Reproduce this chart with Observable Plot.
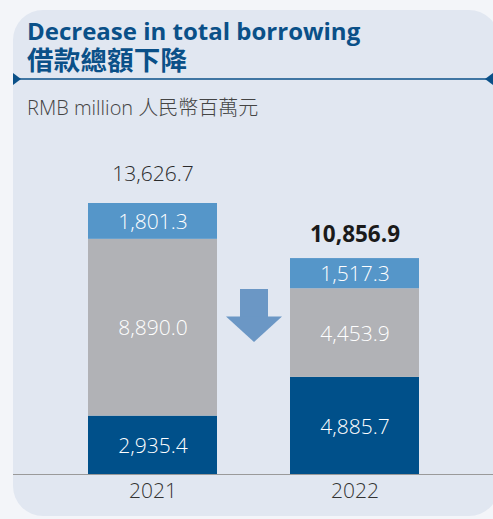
<!DOCTYPE html>
<html>
<head>
<meta charset="utf-8">
<script src="https://cdn.jsdelivr.net/npm/d3@7"></script>
<script src="https://cdn.jsdelivr.net/npm/@observablehq/plot@0.6"></script>
<style>
  html, body { margin:0; padding:0; }
  body { width:493px; height:519px; background:#f3f5f9; position:relative; overflow:hidden; font-family:"Open Sans", sans-serif; }
  #panel { position:absolute; left:13px; top:10px; width:486px; height:506px; border-radius:30px; background:#e1e7f1; }
  .title { position:absolute; left:27px; color:#0a5088; font-weight:700; white-space:nowrap; line-height:1; }
  #t1 { top:19px; font-size:24px; letter-spacing:0px; font-family:"Open Sans", sans-serif; }
  #t2 { top:46px; font-size:26.5px; font-family:"Noto Sans CJK TC", sans-serif; letter-spacing:0.2px; }
  #sub { position:absolute; left:27px; top:98px; font-size:20px; line-height:1; color:#444; font-weight:300; white-space:nowrap; font-family:"Open Sans","Noto Sans CJK TC",sans-serif; }
  #deco { position:absolute; left:0; top:0; }
  #chart { position:absolute; left:0; top:120px; }
</style>
</head>
<body>
<div id="panel"></div>
<div class="title" id="t1">Decrease in total borrowing</div>
<div class="title" id="t2">借款總額下降</div>
<div id="sub">RMB million 人民幣百萬元</div>
<svg id="deco" width="493" height="519">
  <line x1="13" x2="493" y1="79" y2="79" stroke="#0a5088" stroke-width="1.3"/>
  <polygon points="13,73 21,79 13,85" fill="#0a5088"/>
  <polygon points="493,73 485,79 493,85" fill="#0a5088"/>
  <rect x="240" y="289" width="28" height="28" fill="#6b97c5"/>
  <polygon points="226,316.5 282,316.5 254,342" fill="#6b97c5"/>
</svg>
<div id="chart"></div>
<script>
const years = ["2021", "2022"];
const categories = ["Component A", "Component B", "Component C"]; // bottom to top
const values2021 = [2935.4, 8890.0, 1801.3];
const values2022 = [4885.7, 4453.9, 1517.3];
const totals = [13626.7, 10856.9];

const fmt = d3.format(",.1f");
const rows = [];
[values2021, values2022].forEach((vals, i) => {
  vals.forEach((v, j) => rows.push({year: years[i], cat: categories[j], value: v}));
});
const totalRows = years.map((y, i) => ({year: y, total: totals[i]}));

const chart = Plot.plot({
  width: 493,
  height: 399,
  marginLeft: 46.4,
  marginRight: 32.5,
  marginTop: 83,
  marginBottom: 45,
  style: {background: "transparent", color: "#333", fontFamily: "'Open Sans', sans-serif"},
  x: {type: "band", domain: years, paddingInner: 0.36, paddingOuter: 0.2, label: null},
  y: {domain: [0, 13626.7], nice: false, axis: null},
  color: {domain: categories, range: ["#00508a", "#b1b2b6", "#5596c9"]},
  marks: [
    Plot.barY(rows, {x: "year", y: "value", fill: "cat"}),
    Plot.text(rows, Plot.stackY({x: "year", y: "value", text: d => fmt(d.value), fill: "white", fontSize: 21, fontWeight: 300, dy: 1})),
    Plot.text(totalRows.slice(0, 1), {x: "year", y: "total", text: d => fmt(d.total), dy: -29, fontSize: 21, fontWeight: 300, fill: "#2a2a2a"}),
    Plot.text(totalRows.slice(1), {x: "year", y: "total", text: d => fmt(d.total), dy: -24, fontSize: 22.5, fontWeight: 700, fill: "#1a1a1a"}),
    Plot.ruleY([0], {stroke: "#9a9a9a", strokeWidth: 1.2, insetLeft: -33.4, insetRight: -32.5}),
    Plot.axisX({tickSize: 0, tickPadding: 9, fontSize: 21, fontWeight: 300, label: null})
  ]
});
document.getElementById("chart").appendChild(chart);
</script>
</body>
</html>
